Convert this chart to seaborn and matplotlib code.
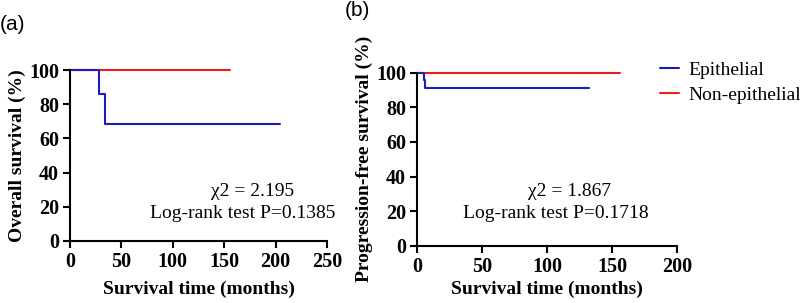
import matplotlib
matplotlib.use("Agg")
import matplotlib.pyplot as plt
import seaborn as sns
import pandas as pd
from matplotlib.lines import Line2D

sns.set_theme(style="ticks")
plt.rcParams['font.family'] = ['Liberation Serif', 'DejaVu Serif']
plt.rcParams['text.color'] = 'black'
plt.rcParams['axes.labelcolor'] = 'black'
plt.rcParams['xtick.color'] = 'black'
plt.rcParams['ytick.color'] = 'black'

# ---- data ----
groups = ["Epithelial", "Non-epithelial"]
os_epi_time = [0, 28.5, 34.5, 204]
os_epi_surv = [100, 85.7, 68.6, 68.6]
os_non_time = [0, 156]
os_non_surv = [100, 100]
pfs_epi_time = [0, 5.2, 6.5, 132]
pfs_epi_surv = [100, 95.7, 91.3, 91.3]
pfs_non_time = [0, 156]
pfs_non_surv = [100, 100]
os_stats = ["\u03c72 = 2.195", "Log-rank test P=0.1385"]
pfs_stats = ["\u03c72 = 1.867", "Log-rank test P=0.1718"]
os_xticks = [0, 50, 100, 150, 200, 250]
pfs_xticks = [0, 50, 100, 150, 200]
yticks = [0, 20, 40, 60, 80, 100]

colors = {"Epithelial": "#1c1cb8", "Non-epithelial": "#f01c1c"}

def make_df(t1, s1, t2, s2):
    return pd.DataFrame({
        "time": list(t1) + list(t2),
        "surv": list(s1) + list(s2),
        "group": [groups[0]] * len(t1) + [groups[1]] * len(t2),
    })

df_os = make_df(os_epi_time, os_epi_surv, os_non_time, os_non_surv)
df_pfs = make_df(pfs_epi_time, pfs_epi_surv, pfs_non_time, pfs_non_surv)

fig = plt.figure(figsize=(8, 3.03), dpi=100)
ax1 = fig.add_axes([70/800, 1-241/303, (327-70)/800, (241-70)/303])
ax2 = fig.add_axes([417/800, 1-245.7/303, (677-417)/800, (245.7-72.7)/303])

def draw(ax, df, xticks, ylabel, stats, stat_pos, xpad):
    for g in [groups[1], groups[0]]:
        sub = df[df.group == g]
        sns.lineplot(data=sub, x="time", y="surv", ax=ax, color=colors[g],
                     drawstyle="steps-post", estimator=None, sort=False,
                     lw=1.5, clip_on=False, legend=False)
    ax.set_xlim(xticks[0], xticks[-1])
    ax.set_ylim(0, 100)
    ax.set_xticks(xticks)
    ax.set_yticks(yticks)
    for s in ["top", "right"]:
        ax.spines[s].set_visible(False)
    for s in ["left", "bottom"]:
        ax.spines[s].set_linewidth(1.5)
        ax.spines[s].set_color("black")
    ax.tick_params(axis="both", direction="out", length=5, width=1.5,
                   color="black", labelcolor="black", labelsize=14.5, pad=3)
    for lab in ax.get_xticklabels() + ax.get_yticklabels():
        lab.set_fontweight("bold")
    ax.set_xlabel("Survival time (months)", fontsize=14, fontweight="bold", labelpad=xpad)
    ax.set_ylabel(ylabel, fontsize=14, fontweight="bold", labelpad=2)
    (x1, y1), (x2, y2) = stat_pos
    fig.text(x1/800, 1-y1/303, stats[0], fontsize=14, ha="center", va="center")
    fig.text(x2/800, 1-y2/303, stats[1], fontsize=14, ha="center", va="center")

draw(ax1, df_os, os_xticks, "Overall survival (%)", os_stats,
     [(253, 191.5), (242.5, 213)], 6)
draw(ax2, df_pfs, pfs_xticks, "Progression-free survival (%)", pfs_stats,
     [(569.5, 191.5), (555.5, 213)], 2.5)

fig.text(0/800, 1-24/303, "(a)", fontsize=15, family="Liberation Sans",
         ha="left", va="center")
fig.text(345/800, 1-11/303, "(b)", fontsize=15, family="Liberation Sans",
         ha="left", va="center")

handles = [Line2D([], [], color=colors[g], lw=1.5) for g in groups]
fig.legend(handles, groups, loc="center left", bbox_to_anchor=(660/800, 1-82.5/303),
           frameon=False, fontsize=14, handlelength=1.0, handletextpad=0.45,
           labelspacing=0.35, borderpad=0, borderaxespad=0)

fig.savefig("out.png", dpi=100)
